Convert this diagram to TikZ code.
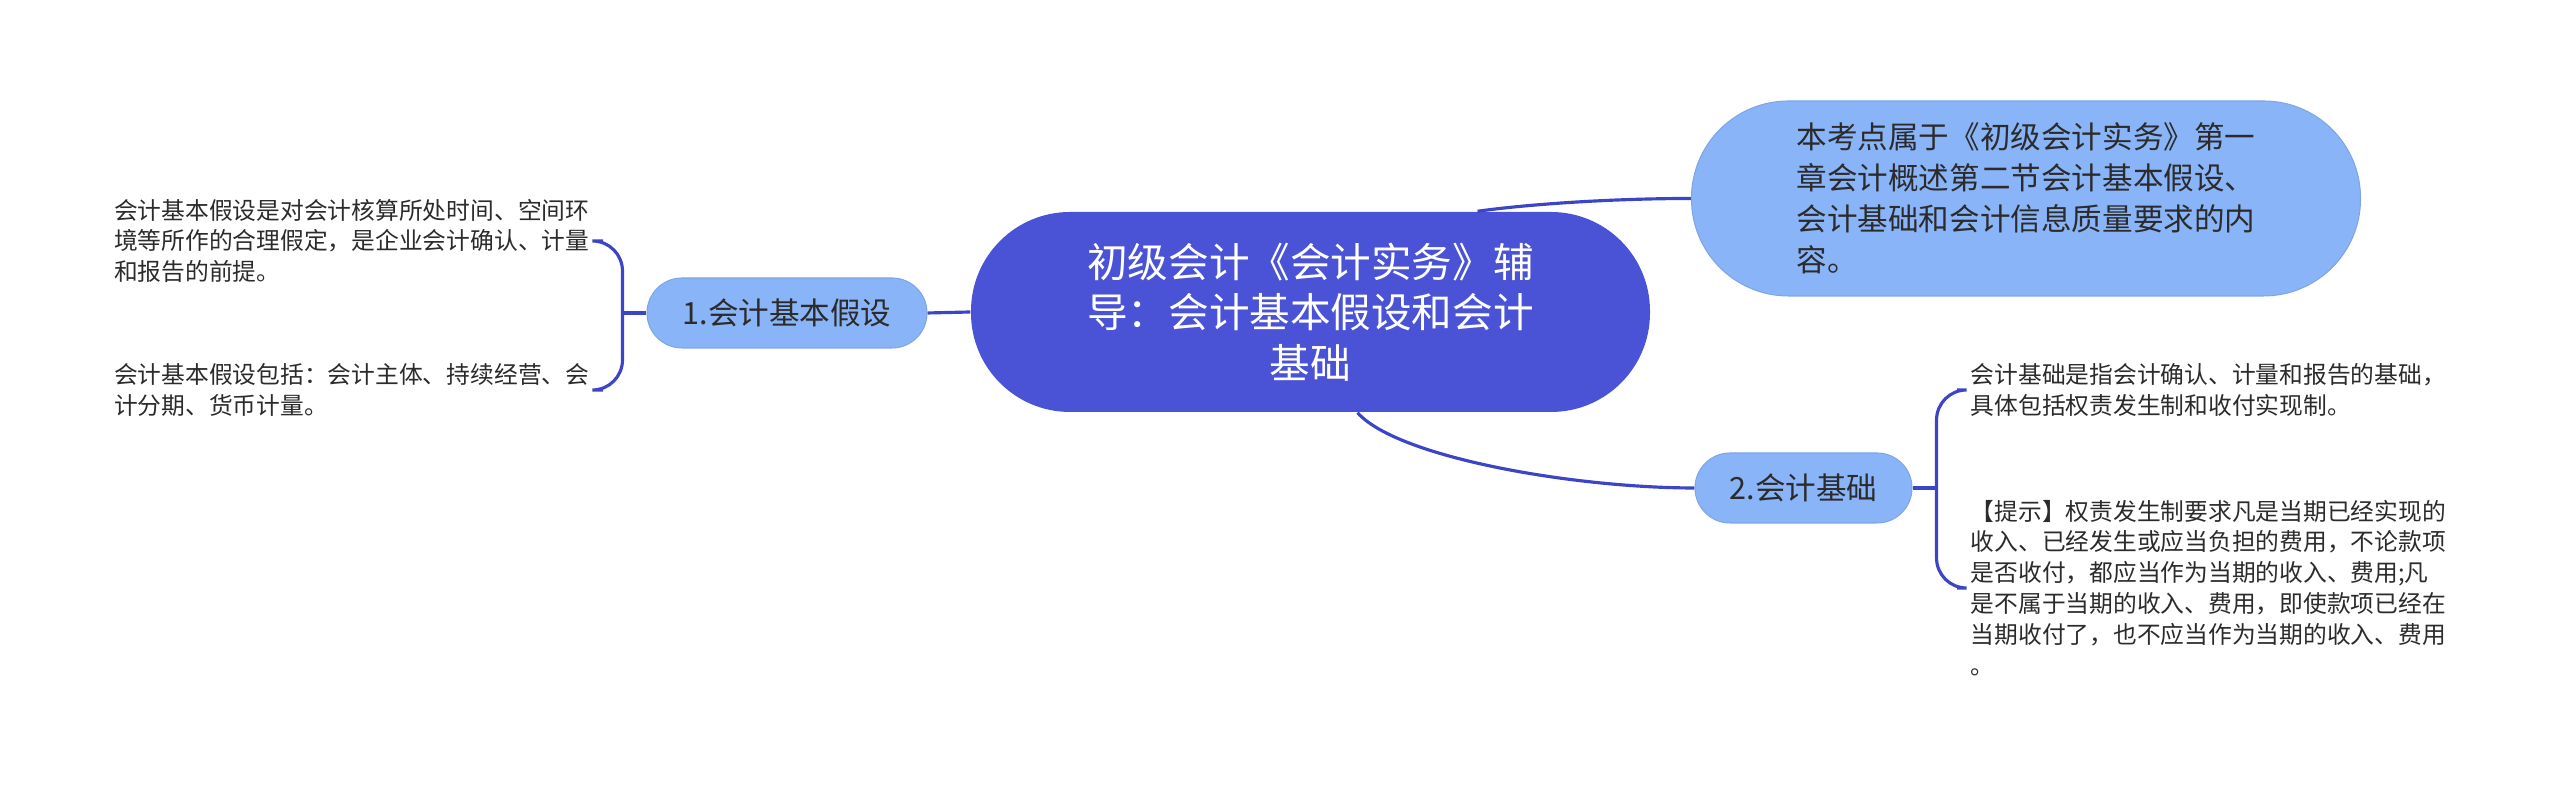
\documentclass[tikz,border=0pt]{standalone}
\usepackage{fontspec}
\setmainfont{Noto Sans CJK SC}
\usetikzlibrary{positioning}
\definecolor{rootblue}{HTML}{4A53D6}
\definecolor{leafblue}{HTML}{8AB4F8}
\definecolor{linkblue}{HTML}{3C45C6}
\definecolor{txtgray}{HTML}{2B2B2B}
\tikzset{
	root/.style={fill=rootblue, text=white, rounded corners=0.99cm, minimum width=6.79cm, minimum height=2cm, align=center, inner sep=0pt, font=\fontsize{11.55pt}{14.4pt}\selectfont},
	topic/.style={fill=leafblue, draw=leafblue!92!black, line width=0.3pt, text=txtgray, inner sep=0pt, font=\fontsize{8.7pt}{11.7pt}\selectfont},
	note/.style={text=txtgray, align=left, inner xsep=0.13cm, inner ysep=0pt, font=\fontsize{6.76pt}{8.8pt}\selectfont},
	link/.style={draw=linkblue, line width=0.9pt},
}

\begin{document}
\begin{tikzpicture}

			\useasboundingbox (0,0) rectangle (25.6,7.92);

			\node[root] (root) at (13.105,4.80) {初级会计《会计实务》辅\\导：会计基本假设和会计\\基础};

			\node[topic, rounded corners=0.97cm, minimum width=6.69cm, minimum height=1.95cm, align=left] (kaodian) at (20.26,5.935) {本考点属于《初级会计实务》第一\\章会计概述第二节会计基本假设、\\会计基础和会计信息质量要求的内\\容。};
			\node[topic, rounded corners=0.35cm, minimum width=2.8cm, minimum height=0.7cm] (jiashe) at (7.87,4.79) {1.会计基本假设};
			\node[topic, rounded corners=0.35cm, minimum width=2.17cm, minimum height=0.7cm] (jichu) at (18.035,3.04) {2.会计基础};

			% left notes
			\node[note, anchor=east] (jiasheA) at (6.03,5.51) {会计基本假设是对会计核算所处时间、空间环\\境等所作的合理假定，是企业会计确认、计量\\和报告的前提。};
			\node[note, anchor=east] (jiasheB) at (6.03,4.02) {会计基本假设包括：会计主体、持续经营、会\\计分期、货币计量。};

			% right notes
			\node[note, anchor=west] (jichuA) at (19.57,4.02) {会计基础是指会计确认、计量和报告的基础，\\具体包括权责发生制和收付实现制。};
			\node[note, anchor=west] (jichuB) at (19.57,2.04) {【提示】权责发生制要求凡是当期已经实现的\\收入、已经发生或应当负担的费用，不论款项\\是否收付，都应当作为当期的收入、费用;凡\\是不属于当期的收入、费用，即使款项已经在\\当期收付了，也不应当作为当期的收入、费用\\。};

			\draw[link] (root.west) -- (jiashe.east);
			\draw[link] ([xshift=1.67cm]root.north) .. controls +(0.5,0.07) and +(-0.8,0) .. (kaodian.west);
			\draw[link] ([xshift=0.47cm]root.south) .. controls +(0.4,-0.45) and +(-1.2,0) .. (jichu.west);

			\coordinate (forkL) at ([xshift=-0.24cm]jiashe.west);
			\coordinate (forkR) at ([xshift=0.24cm]jichu.east);
			\draw[link] (jiashe.west) -- (forkL);
			\draw[link, rounded corners=0.3cm] (jiasheA.east) -| (forkL) |- (jiasheB.east);
			\draw[link] (jichu.east) -- (forkR);
			\draw[link, rounded corners=0.3cm] (jichuA.west) -| (forkR) |- (jichuB.west);

			%%%%%%%%%%%%%%%%%%%%%%%%%%%%%%%%%%%%%%%%%%%%%%%%%%%%%%%

\end{tikzpicture}
\end{document}
